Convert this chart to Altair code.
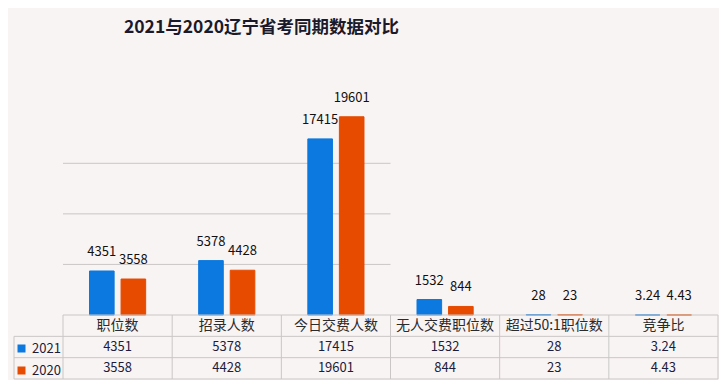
import altair as alt
import pandas as pd

# ---------------- data ----------------
categories = ["职位数", "招录人数", "今日交费人数", "无人交费职位数", "超过50:1职位数", "竞争比"]
series = ["2021", "2020"]
values_2021 = [4351, 5378, 17415, 1532, 28, 3.24]
values_2020 = [3558, 4428, 19601, 844, 23, 4.43]
grid_values = [5000, 10000, 15000]

# ---------------- style / layout ----------------
BLUE = "#0b79df"
ORANGE = "#e64b00"
BG = "#f9f4f4"
LINE = "#cac6c6"
FONT = "Noto Sans CJK SC"
TITLE_FONT = "'Liberation Sans Narrow', 'Noto Sans CJK SC'"

W = 711          # plot width
H = 333          # plot height
BASE = 269       # plot y of the bar baseline (top of table)
CAT_L, CAT_R = 55, 710
LEG_L = 6
YMAX = 26600

ncat = len(categories)
unit = (CAT_R - CAT_L) / ncat
leg_col = (LEG_L - CAT_L) / unit


def fmt(v):
    return f"{v:g}"


rows = []
for s, vals in zip(series, [values_2021, values_2020]):
    for c, v in zip(categories, vals):
        rows.append({"category": c, "series": s, "value": v, "label": fmt(v)})
bars_df = pd.DataFrame(rows)

x_scale = alt.Scale(domain=categories, range=[CAT_L, CAT_R], paddingInner=0, paddingOuter=0)
y_scale = alt.Scale(domain=[0, YMAX], range=[BASE, 0], nice=False, zero=True)
off_scale = alt.Scale(domain=series, paddingInner=0.22, paddingOuter=0.84)
col_scale = alt.Scale(domain=series, range=[BLUE, ORANGE])

base = alt.Chart(bars_df).encode(
    x=alt.X("category:N", sort=categories, scale=x_scale, axis=None),
    xOffset=alt.XOffset("series:N", sort=series, scale=off_scale),
    y=alt.Y("value:Q", scale=y_scale, axis=None),
)

bars = base.mark_bar(strokeWidth=1).encode(
    color=alt.Color(
        "series:N", sort=series, scale=col_scale,
        legend=alt.Legend(
            orient="none", legendX=7, legendY=296, title=None,
            symbolType="square", symbolSize=64, symbolStrokeWidth=0,
            labelFontSize=13, labelFont=FONT, labelColor="#1c1c3c",
            rowPadding=8, padding=0, labelOffset=4, direction="vertical",
        ),
    ),
    stroke=alt.Stroke("series:N", sort=series, scale=col_scale, legend=None),
)

labels = base.mark_text(dy=-19, baseline="middle", fontSize=13, font=FONT, color="#111111").encode(
    text="label:N"
)

grid_df = pd.DataFrame({"value": grid_values,
                        "start": [categories[0]] * len(grid_values),
                        "end": [categories[2]] * len(grid_values)})
grid = alt.Chart(grid_df).mark_rule(color=LINE, strokeWidth=1).encode(
    x=alt.X("start:N", bandPosition=0, scale=x_scale, axis=None),
    x2=alt.X2("end", bandPosition=1),
    y=alt.Y("value:Q", scale=y_scale, axis=None),
)

bar_group = alt.layer(grid, bars, labels)

# ---------------- table ----------------
tx = alt.Scale(domain=[0, ncat], range=[CAT_L, CAT_R], nice=False, zero=False)
ty = alt.Scale(domain=[0, 3], range=[BASE, H], nice=False, zero=False)

header_df = pd.DataFrame({"x": [i + 0.5 for i in range(ncat)], "y": [0.5] * ncat, "text": categories})
cell_rows = []
for r, vals in enumerate([values_2021, values_2020]):
    for i, v in enumerate(vals):
        cell_rows.append({"x": i + 0.5, "y": r + 1.5, "text": fmt(v)})
cells_df = pd.DataFrame(cell_rows)

header = alt.Chart(header_df).mark_text(fontSize=14, font=FONT, color="#2b2b2b", baseline="middle").encode(
    x=alt.X("x:Q", scale=tx, axis=None), y=alt.Y("y:Q", scale=ty, axis=None), text="text:N"
)
cells = alt.Chart(cells_df).mark_text(fontSize=13, font=FONT, color="#1c1c3c", baseline="middle").encode(
    x=alt.X("x:Q", scale=tx, axis=None), y=alt.Y("y:Q", scale=ty, axis=None), text="text:N"
)

hl_df = pd.DataFrame({"y": [0, 1, 2, 3], "x": [0, leg_col, leg_col, leg_col], "x2": [ncat] * 4})
vl_df = pd.DataFrame({"x": list(range(ncat + 1)) + [leg_col],
                      "y": [0] * (ncat + 1) + [1],
                      "y2": [3] * (ncat + 2)})
hlines = alt.Chart(hl_df).mark_rule(color=LINE, strokeWidth=1).encode(
    x=alt.X("x:Q", scale=tx, axis=None), x2="x2:Q", y=alt.Y("y:Q", scale=ty, axis=None)
)
vlines = alt.Chart(vl_df).mark_rule(color=LINE, strokeWidth=1).encode(
    x=alt.X("x:Q", scale=tx, axis=None), y=alt.Y("y:Q", scale=ty, axis=None), y2="y2:Q"
)

table_group = alt.layer(hlines, vlines, header, cells)

chart = alt.layer(bar_group, table_group).resolve_scale(
    x="independent", y="independent"
).properties(
    width=W, height=H,
    padding={"top": 10, "left": 0, "right": 0, "bottom": 0},
    background=BG,
    title=alt.TitleParams(
        "2021与2020辽宁省考同期数据对比", fontSize=17.5, font=TITLE_FONT, fontWeight="bold",
        color="#1a1a2a", anchor="middle", dx=-102, offset=10,
    ),
).configure_view(stroke=None)

chart.save("out.html", embed_options={"renderer": "svg", "actions": False})
